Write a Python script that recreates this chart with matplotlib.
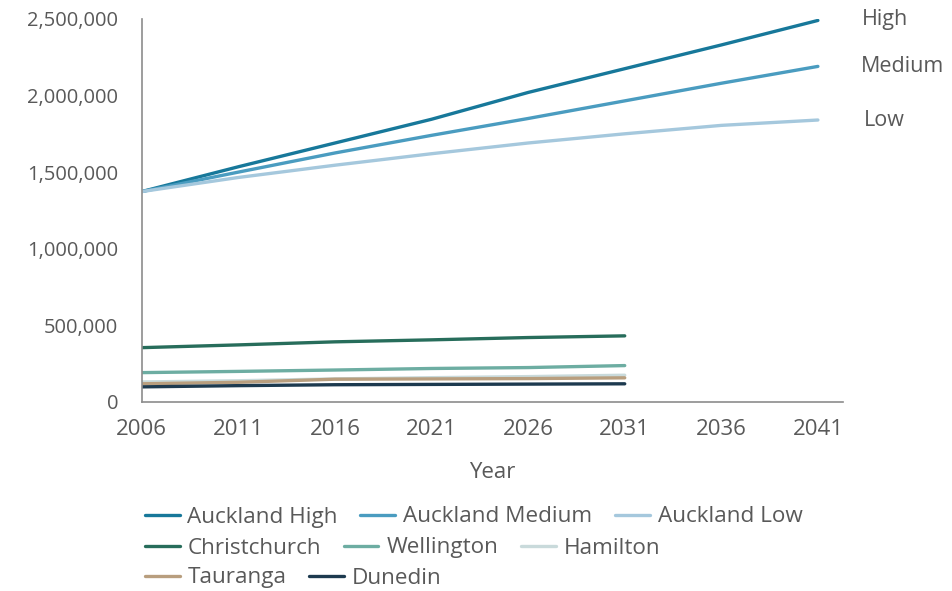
import matplotlib
matplotlib.use("Agg")
import matplotlib.pyplot as plt
from matplotlib.ticker import FuncFormatter

plt.rcParams['font.family'] = ['Open Sans', 'DejaVu Sans']

# data (population)
years_akl = [2006, 2011, 2016, 2021, 2026, 2031, 2036, 2041]
auckland_high = [1373000, 1535000, 1690000, 1845000, 2020000, 2175000, 2330000, 2490000]
auckland_medium = [1373000, 1500000, 1625000, 1740000, 1850000, 1965000, 2080000, 2190000]
auckland_low = [1373000, 1465000, 1545000, 1620000, 1690000, 1750000, 1805000, 1840000]

years_city = [2006, 2011, 2016, 2021, 2026, 2031]
christchurch = [354000, 372000, 392000, 405000, 420000, 431000]
wellington = [191000, 199000, 208000, 218000, 224000, 237000]
hamilton = [130000, 138000, 150000, 158000, 165000, 174000]
tauranga = [118000, 128000, 148000, 150000, 152000, 157000]
dunedin = [98000, 106000, 112000, 114000, 116000, 118000]

series = [
    ("Auckland High", years_akl, auckland_high, "#17789a"),
    ("Auckland Medium", years_akl, auckland_medium, "#4a9cc0"),
    ("Auckland Low", years_akl, auckland_low, "#a5c8dd"),
    ("Christchurch", years_city, christchurch, "#276d5b"),
    ("Wellington", years_city, wellington, "#6dada2"),
    ("Hamilton", years_city, hamilton, "#c9dadb"),
    ("Tauranga", years_city, tauranga, "#b89e7e"),
    ("Dunedin", years_city, dunedin, "#1d3a4f"),
]

txt = "#595959"

fig = plt.figure(figsize=(9.52, 5.91), dpi=100)
ax = fig.add_axes([0.149, 0.320, 0.7365, 0.648])

handles = {}
for name, xs, ys, col in series:
    h, = ax.plot(xs, ys, color=col, lw=2.4, solid_capstyle='round', label=name)
    handles[name] = h

ax.set_xlim(2006, 2042.3)
ax.set_ylim(0, 2500000)
ax.set_xticks(years_akl)
ax.set_yticks([0, 500000, 1000000, 1500000, 2000000, 2500000])
ax.yaxis.set_major_formatter(FuncFormatter(lambda v, p: f"{int(v):,}"))
ax.tick_params(length=0, colors=txt)
ax.tick_params(axis='y', pad=17, labelsize=14.5)
ax.tick_params(axis='x', pad=12, labelsize=16)
for s in ['top', 'right']:
    ax.spines[s].set_visible(False)
for s in ['left', 'bottom']:
    ax.spines[s].set_color('#8c8c8c')
    ax.spines[s].set_linewidth(1.2)
ax.set_xlabel("Year", fontsize=16, color=txt, labelpad=16)

# scenario labels
for lbl, y, dx in [("High", 2495000, 0), ("Medium", 2190000, -0.1), ("Low", 1835000, 0.1)]:
    ax.text(2043.3 + dx, y, lbl, fontsize=15.5, color=txt, va='center', ha='left', clip_on=False)

rows = [
    ["Auckland High", "Auckland Medium", "Auckland Low"],
    ["Christchurch", "Wellington", "Hamilton"],
    ["Tauranga", "Dunedin"],
]
ys_rows = [517, 548, 578]
for names, yp in zip(rows, ys_rows):
    leg = fig.legend([handles[n] for n in names], names, loc='center left',
                     bbox_to_anchor=(0.152, 1 - yp / 591), ncol=len(names),
                     frameon=False, fontsize=16.2, handlelength=1.55,
                     handletextpad=0.35, columnspacing=1.0, borderaxespad=0,
                     borderpad=0)
    for t in leg.get_texts():
        t.set_color(txt)

fig.savefig("out.png", dpi=100)
